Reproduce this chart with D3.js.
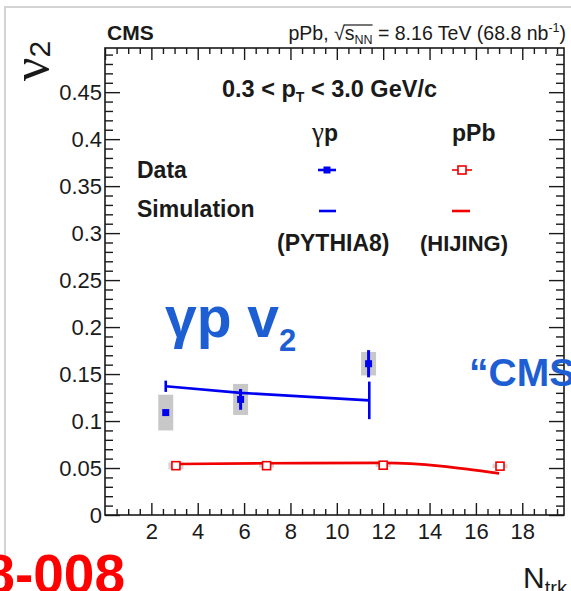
<!DOCTYPE html>
<html>
<head>
<meta charset="utf-8">
<script src="https://cdn.jsdelivr.net/npm/d3@7"></script>
<style>
  html, body { margin: 0; padding: 0; background: #fff; }
  svg { display: block; font-family: "Liberation Sans", Arial, Helvetica, sans-serif; }
  svg text { white-space: pre; }
</style>
</head>
<body>
<svg id="chart" width="571" height="591"></svg>
<script>
// ---- data ----
const xTickValues = [2, 4, 6, 8, 10, 12, 14, 16, 18];
const xTickLabels = ["2", "4", "6", "8", "10", "12", "14", "16", "18"];
const yTickValues = [0, 0.05, 0.1, 0.15, 0.2, 0.25, 0.3, 0.35, 0.4, 0.45];
const yTickLabels = ["0", "0.05", "0.1", "0.15", "0.2", "0.25", "0.3", "0.35", "0.4", "0.45"];

// gamma-p data (CMS)
const nTrkGp   = [2.62, 5.85, 11.37];
const v2Gp     = [0.109, 0.123, 0.161];
const statGp   = [0.003, 0.011, 0.0145];
const sysGp    = [0.019, 0.0165, 0.0125];

// gamma-p simulation (PYTHIA8)
const nTrkSimGp = [2.62, 5.85, 11.4];
const v2SimGp   = [0.137, 0.130, 0.122];
const errSimGp  = [0.006, 0.004, 0.020];

// pPb data
const nTrkPPb = [3.06, 6.97, 12.0, 17.04];
const v2PPb   = [0.0525, 0.0525, 0.053, 0.052];
const sysPPb  = [0.0035, 0.002, 0.002, 0.002];

// pPb simulation (HIJING)
const nTrkSimPPb = [3.07, 6.97, 12.0, 17.0];
const v2SimPPb   = [0.0543, 0.0550, 0.0555, 0.0443];

// ---- layout ----
const svg = d3.select("#chart");
const W = 571, H = 591;
const plot = { left: 105, right: 564, top: 48, bottom: 515 };
const x = d3.scaleLinear().domain([0, 19.8]).range([plot.left, plot.right]);
const y = d3.scaleLinear().domain([0, 0.497]).range([plot.bottom, plot.top]);

const BLUE = "#0000f0", RED = "#f00000", GREY = "#c8c8c8", AXIS = "#1a1a1a";
const FONT = '"Liberation Sans", Arial, sans-serif';
const SERIF = '"Liberation Serif", "Times New Roman", serif';

svg.append("rect").attr("width", W).attr("height", H).attr("fill", "#fff");

// page outline
svg.append("path")
  .attr("d", `M5,${H} L5,7 L${W},7`)
  .attr("fill", "none").attr("stroke", "#d4d4d4").attr("stroke-width", 2);

// ---- axes (ticks on all four sides, pointing inward) ----
const xMinor = d3.range(0, 19.81, 0.5).filter(v => Math.abs(v / 2 - Math.round(v / 2)) > 1e-6);
const yMinor = d3.range(0, 0.4971, 0.01).filter(v => Math.abs(v / 0.05 - Math.round(v / 0.05)) > 1e-6);
const xMajorAll = d3.range(0, 19.81, 2);
const yMajorAll = d3.range(0, 0.4971, 0.05);

function styleAxis(g) {
  g.select(".domain").remove();
  g.selectAll(".tick line").attr("stroke", AXIS).attr("stroke-width", 1.4);
  g.selectAll("text").attr("fill", AXIS).style("font-family", FONT);
}

// bottom
svg.append("g").attr("transform", `translate(0,${plot.bottom})`)
  .call(d3.axisBottom(x).tickValues(xMinor).tickSize(-6).tickFormat(""))
  .call(styleAxis);
svg.append("g").attr("transform", `translate(0,${plot.bottom})`)
  .call(d3.axisBottom(x).tickValues(xTickValues).tickSize(-12).tickPadding(8)
        .tickFormat((d, i) => xTickLabels[i]))
  .call(styleAxis)
  .call(g => g.selectAll("text").style("font-size", "22px"));
// top
svg.append("g").attr("transform", `translate(0,${plot.top})`)
  .call(d3.axisTop(x).tickValues(xMinor).tickSize(-6).tickFormat(""))
  .call(styleAxis);
svg.append("g").attr("transform", `translate(0,${plot.top})`)
  .call(d3.axisTop(x).tickValues(xMajorAll).tickSize(-12).tickFormat(""))
  .call(styleAxis);
// left
svg.append("g").attr("transform", `translate(${plot.left},0)`)
  .call(d3.axisLeft(y).tickValues(yMinor).tickSize(-8).tickFormat(""))
  .call(styleAxis);
svg.append("g").attr("transform", `translate(${plot.left},0)`)
  .call(d3.axisLeft(y).tickValues(yTickValues).tickSize(-15).tickPadding(3)
        .tickFormat((d, i) => yTickLabels[i]))
  .call(styleAxis)
  .call(g => g.selectAll("text").style("font-size", "22px"));
// right
svg.append("g").attr("transform", `translate(${plot.right},0)`)
  .call(d3.axisRight(y).tickValues(yMinor).tickSize(-8).tickFormat(""))
  .call(styleAxis);
svg.append("g").attr("transform", `translate(${plot.right},0)`)
  .call(d3.axisRight(y).tickValues(yMajorAll).tickSize(-15).tickFormat(""))
  .call(styleAxis);

// frame
svg.append("rect")
  .attr("x", plot.left).attr("y", plot.top)
  .attr("width", plot.right - plot.left).attr("height", plot.bottom - plot.top)
  .attr("fill", "none").attr("stroke", AXIS).attr("stroke-width", 1.6);

// ---- data marks ----
const marks = svg.append("g");

// systematic boxes
const boxHalf = 7.5;
marks.selectAll("rect.sysGp").data(nTrkGp).join("rect")
  .attr("x", d => x(d) - boxHalf).attr("width", 2 * boxHalf)
  .attr("y", (d, i) => y(v2Gp[i] + sysGp[i]))
  .attr("height", (d, i) => y(v2Gp[i] - sysGp[i]) - y(v2Gp[i] + sysGp[i]))
  .attr("fill", GREY);
marks.selectAll("rect.sysPPb").data(nTrkPPb).join("rect")
  .attr("x", d => x(d) - boxHalf).attr("width", 2 * boxHalf)
  .attr("y", (d, i) => y(v2PPb[i] + sysPPb[i]))
  .attr("height", (d, i) => y(v2PPb[i] - sysPPb[i]) - y(v2PPb[i] + sysPPb[i]))
  .attr("fill", GREY).attr("opacity", 0.8);

// gamma-p simulation line with error bars
const simGp = nTrkSimGp.map((n, i) => [n, v2SimGp[i]]);
marks.append("path")
  .attr("d", d3.line().x(d => x(d[0])).y(d => y(d[1]))(simGp))
  .attr("fill", "none").attr("stroke", BLUE).attr("stroke-width", 2.6);
marks.selectAll("line.errSimGp").data(nTrkSimGp).join("line")
  .attr("x1", d => x(d)).attr("x2", d => x(d))
  .attr("y1", (d, i) => y(v2SimGp[i] + errSimGp[i]))
  .attr("y2", (d, i) => y(v2SimGp[i] - errSimGp[i]))
  .attr("stroke", BLUE).attr("stroke-width", 2.6);

// pPb simulation curve
const simPPb = nTrkSimPPb.map((n, i) => [n, v2SimPPb[i]]);
marks.append("path")
  .attr("d", d3.line().curve(d3.curveMonotoneX).x(d => x(d[0])).y(d => y(d[1]))(simPPb))
  .attr("fill", "none").attr("stroke", RED).attr("stroke-width", 2.6);

// gamma-p data: stat error bars + filled squares
marks.selectAll("line.statGp").data(nTrkGp).join("line")
  .attr("x1", d => x(d)).attr("x2", d => x(d))
  .attr("y1", (d, i) => y(v2Gp[i] + statGp[i]))
  .attr("y2", (d, i) => y(v2Gp[i] - statGp[i]))
  .attr("stroke", BLUE).attr("stroke-width", 3);
const sqB = 7;
marks.selectAll("rect.ptGp").data(nTrkGp).join("rect")
  .attr("x", d => x(d) - sqB / 2).attr("y", (d, i) => y(v2Gp[i]) - sqB / 2)
  .attr("width", sqB).attr("height", sqB).attr("fill", BLUE);

// pPb data: open squares
const sqR = 8;
marks.selectAll("rect.ptPPb").data(nTrkPPb).join("rect")
  .attr("x", d => x(d) - sqR / 2).attr("y", (d, i) => y(v2PPb[i]) - sqR / 2)
  .attr("width", sqR).attr("height", sqR)
  .attr("fill", "#fff").attr("stroke", RED).attr("stroke-width", 1.6);

// ---- text helper: lays out styled runs left to right ----
function runs(parent, x0, yBase, segs, anchor) {
  const g = parent.append("g");
  let cx = 0;
  const placed = [];
  segs.forEach(s => {
    const t = g.append("text")
      .attr("x", cx).attr("y", yBase + (s.dy || 0))
      .style("font-family", s.family || FONT)
      .style("font-size", s.size + "px")
      .style("font-weight", s.weight || "normal")
      .style("white-space", "pre")
      .attr("fill", s.fill || AXIS)
      .text(s.t);
    const w = t.node().getComputedTextLength();
    placed.push({ node: t, x: cx, w });
    cx += w + (s.gap || 0);
  });
  const shift = anchor === "end" ? x0 - cx : x0;
  placed.forEach(p => { p.node.attr("x", p.x + shift); p.x += shift; });
  return placed;
}

// header
svg.append("text").attr("x", 107).attr("y", 40)
  .style("font-size", "21px").style("font-weight", "bold").attr("fill", AXIS).text("CMS");
const hdr = runs(svg, 566, 40, [
  { t: "pPb, ", size: 19.5 },
  { t: "\u221A", size: 19.5 },
  { t: "s", size: 19.5 },
  { t: "NN", size: 12.5, dy: 4 },
  { t: " = 8.16 TeV (68.8 nb", size: 19.5 },
  { t: "-1", size: 12.5, dy: -8 },
  { t: ")", size: 19.5 }
], "end");
svg.append("line")
  .attr("x1", hdr[1].x + hdr[1].w - 1).attr("x2", hdr[3].x + hdr[3].w)
  .attr("y1", 25).attr("y2", 25).attr("stroke", AXIS).attr("stroke-width", 1.2);

// kinematic range
runs(svg, 222, 97, [
  { t: "0.3 < p", size: 23.5, weight: "bold" },
  { t: "T", size: 14, weight: "bold", dy: 5 },
  { t: " < 3.0 GeV/c", size: 23.5, weight: "bold" }
]);

// legend
runs(svg, 312, 141, [
  { t: "\u03B3", size: 27, family: SERIF },
  { t: "p", size: 23, weight: "bold" }
]);
svg.append("text").attr("x", 452).attr("y", 141)
  .style("font-size", "23px").style("font-weight", "bold").attr("fill", AXIS).text("pPb");
svg.append("text").attr("x", 137).attr("y", 178)
  .style("font-size", "23px").style("font-weight", "bold").attr("fill", AXIS).text("Data");
svg.append("text").attr("x", 137).attr("y", 217)
  .style("font-size", "23px").style("font-weight", "bold").attr("fill", AXIS).text("Simulation");
svg.append("text").attr("x", 277).attr("y", 251)
  .style("font-size", "23px").style("font-weight", "bold").attr("fill", AXIS).text("(PYTHIA8)");
svg.append("text").attr("x", 420).attr("y", 251)
  .style("font-size", "22px").style("font-weight", "bold").attr("fill", AXIS).text("(HIJING)");

const leg = svg.append("g");
leg.append("line").attr("x1", 318).attr("x2", 336).attr("y1", 170).attr("y2", 170)
  .attr("stroke", BLUE).attr("stroke-width", 2.6);
leg.append("rect").attr("x", 327 - sqB / 2).attr("y", 170 - sqB / 2)
  .attr("width", sqB).attr("height", sqB).attr("fill", BLUE);
leg.append("line").attr("x1", 319).attr("x2", 336).attr("y1", 211).attr("y2", 211)
  .attr("stroke", BLUE).attr("stroke-width", 2.6);
leg.append("line").attr("x1", 452).attr("x2", 472).attr("y1", 170).attr("y2", 170)
  .attr("stroke", RED).attr("stroke-width", 1.6);
leg.append("rect").attr("x", 462 - sqR / 2).attr("y", 170 - sqR / 2)
  .attr("width", sqR).attr("height", sqR)
  .attr("fill", "#fff").attr("stroke", RED).attr("stroke-width", 1.6);
leg.append("line").attr("x1", 452).attr("x2", 470).attr("y1", 211).attr("y2", 211)
  .attr("stroke", RED).attr("stroke-width", 2.6);

// axis titles
const yt = svg.append("g").attr("transform", "translate(48,81) rotate(-90)");
runs(yt, 0, 0, [
  { t: "\u03BD", size: 52, family: SERIF },
  { t: "2", size: 30, dy: 2 }
]);
runs(svg, 523, 588, [
  { t: "N", size: 30 },
  { t: "trk", size: 20, dy: 7 }
]);

// annotations
const ANNO = "#1d5fd3";
runs(svg, 165, 337, [
  { t: "\u03B3p v", size: 57, weight: "bold", fill: ANNO },
  { t: "2", size: 31, weight: "bold", fill: ANNO, dy: 14 }
]);
svg.append("text").attr("x", 469).attr("y", 386)
  .style("font-size", "39px").style("font-weight", "bold").attr("fill", ANNO).text("\u201CCMS");
svg.append("text").attr("x", 125).attr("y", 593).attr("text-anchor", "end")
  .style("font-size", "55px").style("font-weight", "bold").attr("fill", "#ff0000").text("HIN-18-008");
</script>
</body>
</html>
